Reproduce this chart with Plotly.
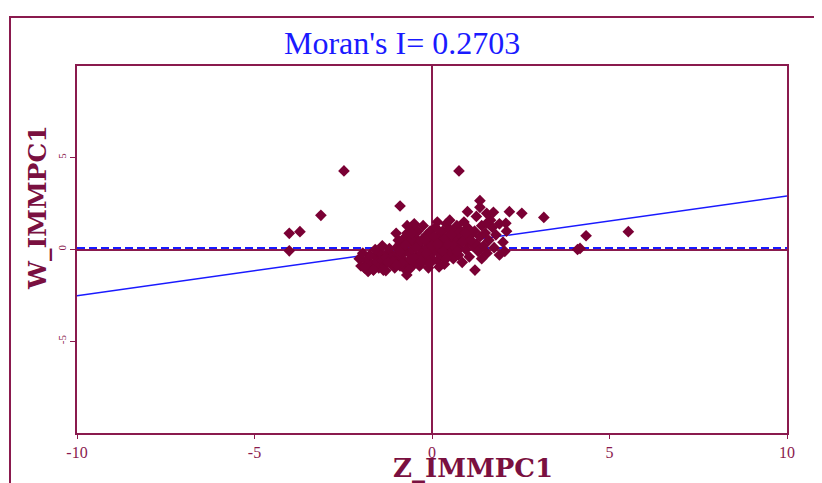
import plotly.graph_objects as go

# ---- data ----
z_vals = [
    -2.0, -1.9, -1.85, -1.8, -1.7, -1.65, -1.6, -1.55, -1.5, -1.45, -1.4, -1.35, -1.3, -1.25, -1.2,
    -1.15, -1.1, -1.05, -1.0, -1.0, -0.95, -0.9, -1.2, -1.5, -1.75, -2.05, -1.95, -1.4, -1.6,
    -0.9, -0.85, -0.8, -0.8, -0.75, -0.7, -0.7, -0.65, -0.6, -0.6, -0.55, -0.5, -0.5, -0.45, -0.4,
    -0.4, -0.35, -0.3, -0.3, -0.25, -0.2, -0.2, -0.15, -0.1, -0.1, -0.05, 0.0, -0.9, -0.95, -0.85,
    -0.65, -0.55, -0.45, -0.35, -0.25, -0.15, -0.05, -0.5, -0.7,
    0.05, 0.1, 0.1, 0.15, 0.2, 0.2, 0.25, 0.3, 0.3, 0.35, 0.4, 0.4, 0.45, 0.5, 0.5, 0.55, 0.6, 0.6,
    0.65, 0.7, 0.7, 0.75, 0.8, 0.8, 0.85, 0.9, 0.95, 1.0, 1.0, 1.05, 1.1, 1.15, 0.15, 0.5, 0.25, 0.6,
    0.9, 0.35, 0.05, 0.75,
    1.2, 1.25, 1.3, 1.35, 1.4, 1.45, 1.5, 1.55, 1.6, 1.7, 1.75, 1.8, 1.9, 2.0, 2.1, 2.05, 1.65, 1.25,
    1.0, 1.35, 1.35, 1.54, 1.73, 2.18, 2.08, 1.54, 2.53, 3.15, 1.21, 1.9, 1.4,
    -2.48, -3.13, -4.02, -3.72, -4.02, 0.76, 4.34, 5.53, 4.17, 4.1, -0.9, -1.01, -0.57, -0.71, -1.89,
    -1.65, -1.37,
    -1.3, -1.1, -0.9, -0.75, -0.6, -0.45, -0.3, -0.15, 0.0, 0.0, 0.15, 0.3, 0.45, 0.55, 0.7, 0.85,
    0.95, 1.1, -0.2, -0.05, 0.2, 0.4, -0.85, -1.0, -1.25,
]
w_vals = [
    -0.9, -1.0, -0.6, -1.2, -0.8, -1.1, -0.4, -0.7, -1.0, -0.3, -0.6, -0.9, -1.15, -0.2, -0.5,
    -0.8, -0.35, -1.0, -0.6, 0.1, -0.2, -0.9, 0.05, -0.1, -0.3, -0.5, -0.2, 0.2, 0.0,
    0.3, -0.5, 0.6, -1.0, -0.1, 0.9, -0.7, 0.4, -0.3, 1.2, 0.0, -0.8, 0.7, -0.4, 0.2,
    1.0, -0.9, 0.5, -0.2, 1.3, 0.0, -0.6, 0.8, 0.3, -1.0, -0.3, 0.6, -0.3, 0.5, 0.1,
    -1.1, 0.5, 0.9, 0.35, -0.45, 0.1, 1.0, 1.4, 1.3,
    -0.1, 0.4, 1.2, -0.6, 0.8, 0.1, -0.3, 1.0, 0.5, -0.8, 0.2, 1.4, 0.7, -0.2, 1.1, 0.4, -0.5, 0.9,
    0.1, 1.3, 0.6, -0.3, 0.3, 1.0, -0.7, 0.6, 0.0, 1.2, 0.4, -0.4, 0.8, 0.2, 1.5, 1.6, 0.0, 0.2,
    1.5, 0.6, 0.7, 0.9,
    1.0, 0.3, -0.1, 0.7, 1.3, 0.2, 0.9, -0.2, 0.5, 1.2, 0.1, 0.8, 1.4, 0.4, 1.0, -0.1, 1.6, 1.8,
    2.06, 2.66, 2.3, 1.97, 2.03, 2.06, 1.43, 1.43, 1.97, 1.75, -1.12, -0.3, -0.5,
    4.28, 1.86, 0.88, 0.97, -0.07, 4.28, 0.75, 0.97, 0.06, 0.0, 2.37, 0.88, 0.88, -1.39, -0.97,
    -1.12, -1.12,
    -0.45, -0.65, -0.1, 0.25, -0.55, 0.1, -0.65, -0.2, 0.2, -0.5, 0.3, -0.1, 0.3, 0.8, -0.1, 0.4,
    0.9, 0.5, 0.55, -0.75, -0.95, -0.5, -0.75, -0.85, -0.7,
]
fit_x = [-10, 10]
fit_y = [-2.52, 2.92]
mean_x = [-10, 10]
mean_y = [0.08, 0.08]
x_ticks = [-10, -5, 0, 5, 10]
y_ticks = [-5, 0, 5]
title_text = "Moran's I= 0.2703"
x_title = "Z_IMMPC1"
y_title = "W_IMMPC1"

MAROON = "#8a1a4e"
POINT = "#7a0034"
BLUE = "#1a1aff"

W, H = 822, 483
OFF = 8  # page body margin offsets the figure inside the browser window
# desired plot-area edges in window pixels
PL, PR, PT, PB = 77, 787, 66, 433
L = PL - OFF
T = PT - OFF
R = W - (PR - OFF)
B = H - (PB - OFF)
PW, PH = W - L - R, H - T - B


def px_to_paper_x(px):
    return (px - OFF - L) / PW


def px_to_paper_y(py):
    return (H - B - (py - OFF)) / PH


fig = go.Figure()
fig.add_trace(go.Scatter(x=mean_x, y=mean_y, mode="lines",
                         line=dict(color=BLUE, width=2, dash="8px,4px"),
                         hoverinfo="skip", showlegend=False))
fig.add_trace(go.Scatter(x=fit_x, y=fit_y, mode="lines",
                         line=dict(color=BLUE, width=1.5),
                         hoverinfo="skip", showlegend=False))
fig.add_trace(go.Scatter(x=z_vals, y=w_vals, mode="markers",
                         marker=dict(symbol="diamond", size=9, color=POINT,
                                     line=dict(width=0)),
                         showlegend=False))

fig.update_xaxes(range=[-10, 10], tickvals=x_ticks, ticktext=[str(v) for v in x_ticks],
                 showgrid=False, zeroline=True, zerolinecolor=MAROON, zerolinewidth=1.5,
                 showline=True, linecolor=MAROON, linewidth=2, mirror=True,
                 ticks="outside", ticklen=4, tickcolor=MAROON, tickwidth=1,
                 tickfont=dict(family="Liberation Serif", size=16, color=MAROON))
fig.update_yaxes(range=[-10, 10], tickvals=y_ticks, ticktext=[str(v) for v in y_ticks],
                 showgrid=False, zeroline=True, zerolinecolor=MAROON, zerolinewidth=1.5,
                 showline=True, linecolor=MAROON, linewidth=2, mirror=True,
                 ticks="outside", ticklen=5, tickcolor=MAROON, tickwidth=1,
                 tickangle=-90, tickfont=dict(family="Liberation Serif", size=11, color=MAROON))

fig.add_shape(type="rect", xref="paper", yref="paper",
              x0=px_to_paper_x(10), x1=px_to_paper_x(840),
              y0=px_to_paper_y(500), y1=px_to_paper_y(17),
              line=dict(color=MAROON, width=2), layer="below")

fig.add_annotation(text=title_text, xref="paper", yref="paper",
                   x=px_to_paper_x(402), y=px_to_paper_y(43),
                   showarrow=False, xanchor="center", yanchor="middle",
                   font=dict(family="Liberation Serif", size=32, color=BLUE))
fig.add_annotation(text="<b>" + x_title + "</b>", xref="paper", yref="paper",
                   x=px_to_paper_x(473), y=px_to_paper_y(468),
                   showarrow=False, xanchor="center", yanchor="middle",
                   font=dict(family="DejaVu Serif", size=26, color="#7a1040"))
fig.add_annotation(text="<b>" + y_title + "</b>", xref="paper", yref="paper",
                   x=px_to_paper_x(37), y=px_to_paper_y(208),
                   showarrow=False, xanchor="center", yanchor="middle", textangle=-90,
                   font=dict(family="DejaVu Serif", size=25, color="#7a1040"))

fig.update_layout(width=W, height=H, margin=dict(l=L, r=R, t=T, b=B),
                  paper_bgcolor="white", plot_bgcolor="white")
fig.write_html("out.html")
